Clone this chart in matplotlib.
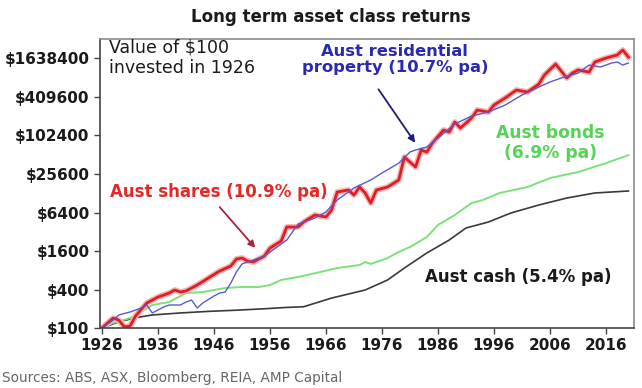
import matplotlib.pyplot as plt

# values (value of $100 invested in 1926)
share_years = [1926, 1928, 1929, 1930, 1931, 1932, 1934, 1936, 1938, 1939, 1940, 1941, 1943, 1945,
               1947, 1949, 1950, 1951, 1952, 1953, 1955, 1956, 1958, 1959, 1961, 1962, 1964, 1966,
               1967, 1968, 1970, 1971, 1972, 1973, 1974, 1975, 1977, 1979, 1980, 1982, 1983, 1984,
               1985, 1987, 1988, 1989, 1990, 1992, 1993, 1995, 1996, 1998, 2000, 2002, 2004, 2005,
               2007, 2009, 2010, 2011, 2013, 2014, 2016, 2018, 2019, 2020]
shares = [100, 143, 133, 104, 107, 154, 246, 305, 352, 393, 366, 380, 470, 605,
          778, 932, 1199, 1243, 1116, 1076, 1336, 1777, 2292, 3795, 3795, 4542, 5847, 5444,
          7000, 13380, 14380, 12020, 16010, 12920, 8998, 14380, 16010, 20640, 47160, 32900, 60700, 56500,
          78000, 124700, 116000, 166300, 133900, 192000, 256100, 238300, 306600, 394600, 526400, 489800, 650000, 903000,
          1342000, 810300, 970000, 1081000, 1006000, 1442000, 1665000, 1855000, 2220000, 1726000]

property_years = [1926, 1928, 1929, 1931, 1933, 1934, 1935, 1937, 1938, 1940, 1941, 1942, 1943, 1944,
                  1946, 1947, 1948, 1949, 1950, 1951, 1953, 1955, 1957, 1959, 1961, 1964, 1966, 1968,
                  1971, 1974, 1976, 1979, 1981, 1982, 1984, 1986, 1989, 1992, 1995, 1998, 2001, 2004,
                  2006, 2008, 2011, 2013, 2015, 2017, 2018, 2019, 2020]
property_ = [100, 133, 160, 178, 205, 229, 172, 213, 229, 229, 255, 274, 205, 246,
             317, 352, 366, 505, 752, 1003, 1156, 1336, 1777, 2376, 4226, 5245, 6523, 10030,
             15450, 20640, 26500, 37800, 56500, 60700, 67600, 93400, 154800, 206500, 238300, 306600, 439700, 586400,
             702000, 810300, 970000, 1295000, 1205000, 1390000, 1442000, 1295000, 1390000]

bond_years = [1926, 1928, 1931, 1933, 1935, 1938, 1941, 1944, 1948, 1951, 1954, 1956, 1958, 1961,
              1965, 1968, 1972, 1973, 1974, 1977, 1979, 1981, 1984, 1986, 1989, 1992, 1994, 1997,
              2002, 2006, 2011, 2016, 2020]
bonds = [100, 120, 143, 178, 229, 255, 352, 366, 422, 438, 438, 470, 564, 627,
         752, 867, 967, 1076, 1003, 1243, 1544, 1847, 2647, 4079, 5847, 8998, 10030, 12920,
         16010, 22120, 27460, 37800, 50500]

cash_years = [1926, 1929, 1932, 1935, 1940, 1945, 1950, 1955, 1959, 1962, 1967, 1973, 1977, 1980,
              1984, 1988, 1991, 1995, 1999, 2004, 2009, 2014, 2020]
cash = [100, 125, 145, 160, 172, 182, 190, 200, 210, 215, 294, 393, 564, 867,
        1488, 2376, 3660, 4542, 6280, 8380, 10780, 12920, 13880]

tick_years = list(range(1926, 2017, 10))
tick_values = [100, 400, 1600, 6400, 25600, 102400, 409600, 1638400]
tick_labels = ['$' + str(v) for v in tick_values]

fig = plt.figure(figsize=(6.42, 3.88), dpi=100)
ax = fig.add_axes([0.1558, 0.1546, 0.8317, 0.745])

ax.plot(cash_years, cash, color='#3a3a3a', lw=1.2)
ax.plot(bond_years, bonds, color='#7ee07a', lw=1.4)
ax.plot(share_years, shares, color='#f6b4b4', lw=4.2, solid_joinstyle='round')
ax.plot(share_years, shares, color='#e01c24', lw=2.0, solid_joinstyle='round')
ax.plot(property_years, property_, color='#5a5ad0', lw=1.0)

ax.set_yscale('log')
ax.set_xlim(1925.65, 2021)
ax.set_ylim(100, 3.31e6)
ax.set_yticks(tick_values)
ax.set_yticklabels(tick_labels)
ax.minorticks_off()
ax.set_xticks(tick_years)
ax.tick_params(labelsize=11, length=4, width=1, color='#444444', labelcolor='#1a1a1a')
for lab in ax.get_xticklabels() + ax.get_yticklabels():
    lab.set_fontweight('bold')

for side in ['left', 'bottom']:
    ax.spines[side].set_color('#444444')
    ax.spines[side].set_linewidth(1.2)
for side in ['top', 'right']:
    ax.spines[side].set_color('#8a8a8a')
    ax.spines[side].set_linewidth(1.2)

fig.text(0.516, 0.955, 'Long term asset class returns', ha='center', va='center',
         fontsize=12, fontweight='bold', color='#1a1a1a')

ax.text(0.016, 1.0, 'Value of $100\ninvested in 1926', transform=ax.transAxes,
        ha='left', va='top', fontsize=12.5, color='#1a1a1a', linespacing=1.15)

ax.text(0.552, 0.93, 'Aust residential\nproperty (10.7% pa)', transform=ax.transAxes,
        ha='center', va='center', fontsize=11.8, fontweight='bold', color='#2a2ab0', linespacing=1.1)
ax.annotate('', xy=(1982.2, 72600), xytext=(1975.1, 586000),
            arrowprops=dict(arrowstyle='-|>', color='#1e1e7a', lw=1.3, mutation_scale=10))

ax.text(0.019, 0.47, 'Aust shares (10.9% pa)', transform=ax.transAxes,
        ha='left', va='center', fontsize=12, fontweight='bold', color='#e02a2a')
ax.annotate('', xy=(1953.7, 1660), xytext=(1946.7, 8380),
            arrowprops=dict(arrowstyle='-|>', color='#b0203a', lw=1.3, mutation_scale=10))

ax.text(0.843, 0.64, 'Aust bonds\n(6.9% pa)', transform=ax.transAxes,
        ha='center', va='center', fontsize=12.3, fontweight='bold', color='#55d455', linespacing=1.1)

ax.text(0.958, 0.175, 'Aust cash (5.4% pa)', transform=ax.transAxes,
        ha='right', va='center', fontsize=12, fontweight='bold', color='#1a1a1a')

fig.text(0.003, 0.025, 'Sources: ABS, ASX, Bloomberg, REIA, AMP Capital', ha='left', va='center',
         fontsize=9.8, color='#666666')

fig.savefig('out.png', dpi=100)
